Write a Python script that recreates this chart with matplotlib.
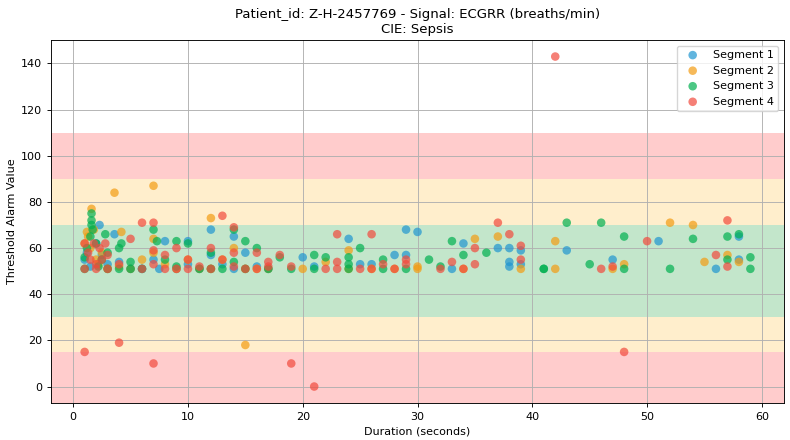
import matplotlib
matplotlib.use('Agg')
import matplotlib.pyplot as plt

# datos (duracion en s, valor de alarma)
seg1_x = [1, 1.2, 1.5, 2, 2.3, 2.5, 3, 3.6, 4, 5, 6, 7, 7.5, 8, 9, 10, 10, 11, 12, 12, 13, 14, 14, 15, 16, 17,
          20, 21, 24, 25, 26, 28, 29, 29, 30, 33, 34, 37, 38, 38, 38, 39, 39, 43, 47, 51, 56, 58, 58]
seg1_y = [55, 58, 52, 62, 70, 57, 53, 66, 54, 51, 51, 55, 51, 63, 51, 63, 53, 51, 68, 57, 53, 65, 51, 58, 52, 51,
          56, 52, 64, 53, 53, 57, 68, 57, 67, 51, 62, 60, 60, 54, 52, 59, 53, 59, 55, 63, 51, 65, 55]

seg2_x = [1, 1.2, 1.3, 1.5, 1.6, 1.8, 2, 2.2, 2.5, 3, 3.6, 4.2, 4, 5, 6, 7, 7, 7, 8, 9, 10, 11, 12, 12, 13, 14,
          15, 15, 16, 17, 20, 22, 24, 24, 26, 28, 30, 30, 34, 35, 37, 39, 42, 42, 47, 48, 52, 54, 55, 57, 58]
seg2_y = [62, 67, 65, 60, 77, 68, 55, 53, 58, 51, 84, 67, 52, 51, 55, 87, 64, 58, 53, 51, 55, 51, 73, 51, 55, 60,
          18, 51, 51, 51, 51, 54, 59, 51, 51, 51, 52, 51, 51, 64, 65, 51, 63, 51, 51, 53, 71, 70, 54, 57, 54]

seg3_x = [1, 1, 1.2, 1.5, 1.6, 1.6, 1.6, 1.7, 2, 2.2, 2.5, 2.8, 3, 3, 4, 4, 4.2, 5, 5, 6, 7, 7.3, 8, 9, 9, 10,
          11, 12, 12, 13, 14, 14, 15, 15, 16, 17, 18, 19, 21, 21, 22, 24, 24, 24, 25, 27, 27, 29, 31, 32, 33, 34,
          36, 41, 41, 43, 45, 46, 48, 48, 52, 54, 57, 57, 58, 59, 59]
seg3_y = [51, 56, 60, 65, 75, 72, 70, 68, 62, 52, 55, 66, 51, 58, 60, 51, 62, 54, 51, 51, 68, 63, 55, 63, 52, 62,
          51, 58, 51, 51, 68, 54, 63, 51, 60, 51, 56, 51, 57, 51, 56, 56, 53, 51, 60, 55, 51, 51, 55, 52, 63, 57,
          58, 51, 51, 71, 53, 71, 65, 51, 51, 64, 65, 55, 66, 56, 51]

seg4_x = [1, 1, 1, 1.3, 1.5, 1.8, 2, 2, 2.3, 2.5, 2.8, 3, 3, 4, 4, 5, 6, 6, 7, 7, 7, 7, 8, 8, 9, 9, 10, 10, 11,
          12, 12, 13, 13, 14, 14, 14, 15, 16, 16, 17, 17, 18, 19, 19, 21, 22, 23, 23, 23, 25, 26, 26, 27, 28, 29,
          29, 32, 33, 34, 35, 35, 37, 38, 39, 39, 42, 46, 47, 48, 50, 56, 57, 57]
seg4_y = [15, 62, 51, 58, 55, 62, 53, 51, 60, 55, 62, 57, 51, 19, 53, 64, 71, 51, 71, 10, 59, 53, 57, 51, 60, 51,
          55, 51, 52, 60, 51, 74, 55, 69, 58, 52, 51, 58, 51, 54, 52, 57, 10, 52, 0, 51, 66, 54, 51, 51, 66, 51,
          53, 51, 55, 53, 51, 54, 51, 60, 53, 71, 66, 61, 55, 143, 51, 52, 15, 63, 57, 72, 52]

segmentos = [('Segment 1', seg1_x, seg1_y, '#1f96d0'),
             ('Segment 2', seg2_x, seg2_y, '#f39c12'),
             ('Segment 3', seg3_x, seg3_y, '#00b050'),
             ('Segment 4', seg4_x, seg4_y, '#f24a3d')]

# bandas de umbral
bandas = [(-20, 15, '#ffcccc'), (15, 30, '#ffeecc'), (30, 70, '#c3e6cb'),
          (70, 90, '#ffeecc'), (90, 110, '#ffcccc')]

fig, ax = plt.subplots(figsize=(7.9, 4.4), dpi=100)
fig.subplots_adjust(left=0.065, right=0.992, top=0.909, bottom=0.084)

for y0, y1, c in bandas:
    ax.axhspan(y0, y1, color=c, zorder=0, lw=0)

for nombre, xs, ys, c in segmentos:
    ax.scatter(xs, ys, s=38, color=c, alpha=0.7, label=nombre, zorder=3, edgecolors='none')

ax.set_xlim(-1.9, 61.9)
ax.set_ylim(-7.15, 150.15)
ax.grid(True, color='#b0b0b0', lw=0.65, zorder=1)
ax.set_axisbelow(True)
ax.tick_params(labelsize=8, width=0.65, length=3)
for sp in ax.spines.values():
    sp.set_linewidth(0.65)
ax.set_xlabel('Duration (seconds)', fontsize=8, labelpad=3)
ax.set_ylabel('Threshold Alarm Value', fontsize=8, labelpad=3)
ax.set_title('Patient_id: Z-H-2457769 - Signal: ECGRR (breaths/min)\nCIE: Sepsis', fontsize=9.5, pad=5)
ax.legend(loc='upper right', fontsize=8)

fig.savefig('out.png', dpi=100)
